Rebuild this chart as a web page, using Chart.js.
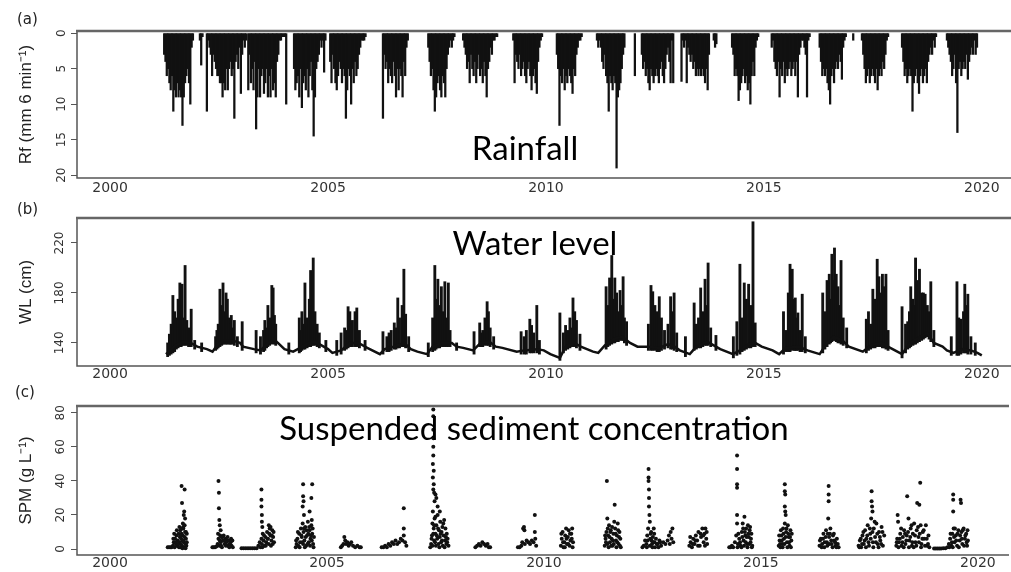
<!DOCTYPE html>
<html>
<head>
<meta charset="utf-8">
<title>Rainfall, water level and SPM</title>
<script src="https://cdn.jsdelivr.net/npm/chart.js@4.4.1/dist/chart.umd.min.js"></script>
<style>
    body { margin: 0; background: #fff; }
    #wrap { position: relative; width: 1011px; height: 572px; overflow: hidden; }
    canvas { position: absolute; left: 0; }
</style>
</head>
<body>
<div id="wrap">
    <canvas id="cRain" width="1011" height="200" style="top:0"></canvas>
    <canvas id="cLevel" width="1011" height="185" style="top:200px"></canvas>
    <canvas id="cSpm" width="1011" height="187" style="top:385px"></canvas>
</div>
<script>
// Shared time axis (decimal years)
const yearTicks = [2000, 2005, 2010, 2015, 2020];
const yearMin = 1999.24;
const yearMax = 2020.67;

// (a) Rainfall, mm per 6 min - one bar every rainStep years inside each wet season
const rainTicks = [0, 5, 10, 15, 20];
const rainStep = 0.03;
const rainSeasonStart = [2001.24, 2002.06, 2002.22, 2003.17, 2004.22, 2005.05, 2006.26, 2007.3, 2008.1,
    2009.25, 2010.25, 2011.17, 2012.04, 2012.2, 2013.11, 2013.26, 2013.85, 2014.27, 2015.18, 2016.28,
    2017.05, 2017.25, 2018.17, 2019.2];
const rainSeasonMm = [
    [3, 4, 6, 5, 7, 8, 6, 11, 8, 9, 7, 9, 8, 9, 13, 9, 7, 6, 5, 7, 10, 2, 1],
    [1, 4.5, 0.5],
    [11, 1, 2, 3, 6, 3, 4, 5, 6, 6, 7, 7, 9, 7, 8, 5, 8, 5, 4, 6, 5, 12, 4, 3, 5, 2, 8.5, 3, 1, 2, 1],
    [8, 3, 7, 5, 8, 4, 13.5, 9, 5, 9, 6, 5, 8.5, 7, 5, 9, 6, 9, 5, 8, 7, 9, 4, 3, 1, 1, 0.5, 0.5, 0.5, 10],
    [5, 8, 7, 6, 9, 5, 10.5, 7, 6, 8, 5, 9, 6, 4, 8, 14.5, 9, 5, 4, 3, 1, 2, 1, 5.5, 1],
    [4, 7, 3, 5, 7, 8, 6, 4, 5, 7, 5, 6, 12, 8, 5, 6, 10, 5, 7, 4, 6, 5, 3, 2, 1, 1, 1, 0.5],
    [12, 3, 5, 4, 7, 5, 6, 7, 4, 6, 9, 5, 8, 5, 6, 9, 4, 6, 2, 1],
    [2, 4, 6, 5, 8, 11, 9, 7, 6, 8, 9, 6, 7, 9, 5, 3, 2, 1, 2, 1, 0.5],
    [1, 2, 3, 5, 4, 7, 3, 5, 6, 4, 7, 5, 3, 6, 5, 7, 4, 6, 9, 5, 4, 2, 3, 1, 1, 0.5, 0.5],
    [1, 7, 3, 4, 5, 3, 6, 5, 4, 6, 7, 5, 4, 6, 8, 6, 5, 7, 8.5, 4, 2, 1, 0.5],
    [3, 5, 13, 6, 7, 5, 8, 6, 7, 5, 6, 7, 8.5, 5, 6, 3, 2, 1, 1, 0.5],
    [1, 2, 1, 2, 4, 5, 3, 6, 7, 11, 6, 7, 8, 6, 7, 19, 9, 8, 7, 5, 3, 2],
    [6],
    [3, 5, 4, 6, 5, 7, 8, 5, 6, 7, 6, 5, 6, 7, 5, 4, 6, 7, 5, 3, 2, 4, 7, 1, 7],
    [6.8, 1, 2, 1, 7],
    [2, 3, 4, 3, 5, 4, 6, 5, 6, 5, 6, 5, 6, 7, 5, 8, 3],
    [1, 2, 1.5],
    [2, 3, 6, 5, 6, 9.5, 8, 7, 6, 5, 7, 6, 8, 7, 10, 6, 4, 6, 2, 1, 0.5],
    [2, 1, 4, 5, 6, 4, 9, 5, 6, 4, 7, 5, 6, 5, 4, 6, 5, 4, 6, 4, 9, 3, 2, 1, 1, 2, 3, 9, 1, 0.5],
    [2, 4, 6, 5, 6, 5, 7, 8, 10, 6, 5, 7, 5, 4, 5, 3, 4, 6.5, 2, 1, 0.5],
    [1],
    [1, 3, 5, 7, 6, 5, 7, 6, 5, 6, 7, 5, 8, 6, 5, 6, 4, 5, 3, 1, 0.5],
    [2, 4, 6, 5, 7, 6, 5, 6, 11, 7, 6, 5, 7, 8.5, 6, 5, 7, 6, 5, 7, 4, 3, 2, 3, 1, 2, 0.5],
    [1, 2, 3, 4, 6, 5, 3, 7, 14, 5, 4, 6, 5, 4, 5, 3, 6.5, 4, 3, 2, 3, 1, 3, 2]
];

// (b) Water level, cm - slow baseline [year, cm]
const levelTicks = [140, 180, 220];
const levelBase = [
    [2001.28, 131], [2001.35, 133], [2001.5, 138], [2001.68, 141], [2001.85, 140], [2002.0, 137],
    [2002.22, 135], [2002.35, 133], [2002.45, 138], [2002.6, 142], [2002.8, 142], [2002.98, 140],
    [2003.05, 137], [2003.3, 135], [2003.45, 134], [2003.6, 139], [2003.75, 143], [2003.85, 140],
    [2004.0, 135], [2004.2, 133], [2004.36, 136], [2004.55, 140], [2004.7, 141], [2004.85, 138],
    [2005.0, 135], [2005.1, 132], [2005.3, 134], [2005.5, 140], [2005.7, 140], [2005.9, 136],
    [2006.19, 131], [2006.3, 135], [2006.5, 137], [2006.75, 140], [2006.9, 135], [2007.05, 133],
    [2007.27, 131], [2007.4, 137], [2007.6, 140], [2007.84, 140], [2007.95, 137], [2008.1, 136],
    [2008.33, 134], [2008.5, 140], [2008.7, 141], [2008.85, 137], [2009.0, 136], [2009.33, 133],
    [2009.5, 134], [2009.8, 135], [2009.95, 134], [2010.1, 131], [2010.32, 128], [2010.45, 137],
    [2010.65, 140], [2010.8, 137], [2011.08, 133], [2011.2, 132], [2011.35, 138], [2011.55, 143],
    [2011.75, 145], [2011.93, 140], [2012.1, 137], [2012.34, 137], [2012.6, 136], [2012.8, 139],
    [2012.95, 137], [2013.07, 134], [2013.3, 131], [2013.45, 137], [2013.7, 141], [2013.85, 138],
    [2014.0, 135], [2014.29, 131], [2014.45, 134], [2014.65, 139], [2014.8, 140], [2014.95, 137],
    [2015.2, 134], [2015.35, 131], [2015.5, 136], [2015.8, 137], [2016.0, 134], [2016.28, 131],
    [2016.45, 140], [2016.6, 145], [2016.8, 142], [2016.95, 137], [2017.27, 133], [2017.45, 138],
    [2017.7, 140], [2017.9, 136], [2018.17, 131], [2018.35, 140], [2018.6, 145], [2018.75, 148],
    [2018.9, 140], [2019.1, 137], [2019.2, 134], [2019.35, 132], [2019.55, 135], [2019.75, 134],
    [2019.9, 132], [2020.0, 130]
];

// (b) Water level flood spikes [year, foot cm, peak cm]
const levelSpikes = [
    [2001.32, 129, 140], [2001.36, 130, 147], [2001.4, 131, 155], [2001.44, 132, 178], [2001.48, 133, 165],
    [2001.52, 135, 160], [2001.56, 136, 175], [2001.6, 137, 188], [2001.63, 137, 170], [2001.65, 138, 187],
    [2001.68, 138, 160], [2001.72, 138, 202], [2001.76, 138, 158], [2001.8, 137, 152], [2001.83, 137, 150],
    [2001.86, 137, 167], [2001.94, 135, 142], [2002.1, 133, 140],
    [2002.42, 134, 145], [2002.45, 135, 150], [2002.48, 136, 155], [2002.52, 137, 183], [2002.56, 138, 170],
    [2002.59, 139, 188], [2002.62, 139, 165], [2002.66, 139, 180], [2002.69, 139, 175], [2002.73, 139, 160],
    [2002.76, 139, 155], [2002.78, 139, 162], [2002.82, 139, 152], [2002.85, 138, 158], [2002.92, 137, 145],
    [2003.03, 134, 157],
    [2003.35, 132, 150], [2003.45, 131, 145], [2003.52, 133, 150], [2003.55, 134, 158], [2003.59, 136, 152],
    [2003.62, 137, 170], [2003.66, 138, 160], [2003.71, 139, 186], [2003.74, 140, 184], [2003.77, 139, 162],
    [2003.8, 138, 155], [2004.1, 131, 140],
    [2004.34, 132, 160], [2004.37, 133, 150], [2004.4, 134, 165], [2004.44, 135, 155], [2004.47, 135, 188],
    [2004.52, 136, 160], [2004.55, 137, 152], [2004.57, 137, 175], [2004.6, 137, 198], [2004.63, 138, 170],
    [2004.66, 138, 208], [2004.7, 138, 165], [2004.75, 137, 155], [2004.8, 136, 148], [2004.95, 133, 142],
    [2005.2, 130, 142], [2005.3, 131, 148], [2005.38, 134, 152], [2005.42, 135, 150], [2005.46, 136, 169],
    [2005.5, 137, 165], [2005.53, 137, 155], [2005.56, 137, 158], [2005.62, 137, 165], [2005.66, 137, 168],
    [2005.72, 136, 150], [2005.85, 134, 142],
    [2006.26, 131, 149], [2006.35, 133, 145], [2006.4, 133, 148], [2006.45, 134, 150], [2006.52, 135, 156],
    [2006.56, 135, 152], [2006.6, 136, 176], [2006.64, 136, 160], [2006.7, 137, 170], [2006.74, 137, 199],
    [2006.78, 136, 163], [2006.85, 133, 145],
    [2007.3, 129, 140], [2007.4, 133, 160], [2007.45, 134, 202], [2007.48, 135, 175], [2007.52, 136, 191],
    [2007.56, 136, 170], [2007.6, 137, 185], [2007.64, 137, 165], [2007.68, 137, 189], [2007.72, 137, 160],
    [2007.76, 137, 188], [2007.8, 137, 150], [2007.95, 134, 140],
    [2008.35, 131, 149], [2008.48, 137, 156], [2008.52, 137, 148], [2008.55, 137, 150], [2008.6, 138, 160],
    [2008.65, 138, 173], [2008.68, 138, 165], [2008.72, 137, 152], [2008.8, 135, 145],
    [2009.43, 131, 149], [2009.5, 131, 145], [2009.55, 131, 150], [2009.63, 132, 159], [2009.67, 132, 154],
    [2009.72, 132, 148], [2009.79, 132, 170], [2009.85, 131, 142],
    [2010.32, 126, 164], [2010.4, 132, 148], [2010.45, 134, 154], [2010.5, 135, 150], [2010.55, 136, 160],
    [2010.58, 137, 152], [2010.62, 137, 176], [2010.66, 137, 165], [2010.7, 136, 158], [2010.78, 134, 147],
    [2011.38, 135, 185], [2011.42, 137, 170], [2011.46, 138, 192], [2011.51, 139, 210], [2011.55, 140, 175],
    [2011.58, 140, 192], [2011.62, 141, 180], [2011.66, 141, 165], [2011.7, 142, 182], [2011.74, 142, 170],
    [2011.77, 142, 193], [2011.8, 140, 160], [2011.85, 138, 157],
    [2012.35, 134, 155], [2012.41, 134, 186], [2012.45, 134, 181], [2012.5, 134, 170], [2012.55, 133, 165],
    [2012.6, 133, 177], [2012.65, 134, 160], [2012.72, 135, 150], [2012.8, 136, 155], [2012.86, 135, 177],
    [2012.9, 135, 165], [2012.94, 134, 180], [2013.0, 133, 148],
    [2013.2, 129, 145], [2013.4, 134, 172], [2013.45, 135, 155], [2013.5, 136, 160], [2013.55, 136, 184],
    [2013.6, 137, 165], [2013.65, 138, 191], [2013.68, 138, 170], [2013.72, 138, 204], [2013.78, 137, 152],
    [2013.9, 134, 146],
    [2014.3, 128, 145], [2014.38, 130, 157], [2014.45, 131, 203], [2014.5, 133, 160], [2014.55, 134, 188],
    [2014.6, 135, 175], [2014.65, 136, 187], [2014.7, 136, 170], [2014.75, 137, 237], [2014.8, 137, 156],
    [2015.45, 131, 165], [2015.5, 133, 150], [2015.56, 133, 180], [2015.6, 133, 203], [2015.65, 134, 199],
    [2015.7, 134, 175], [2015.72, 134, 176], [2015.75, 134, 160], [2015.78, 134, 164], [2015.83, 133, 150],
    [2015.88, 133, 179], [2015.95, 132, 145],
    [2016.35, 132, 180], [2016.4, 135, 165], [2016.45, 137, 190], [2016.5, 139, 195], [2016.53, 140, 175],
    [2016.56, 141, 211], [2016.6, 142, 190], [2016.62, 142, 216], [2016.66, 141, 195], [2016.7, 140, 185],
    [2016.74, 140, 170], [2016.77, 139, 206], [2016.82, 138, 160], [2016.9, 136, 152],
    [2017.35, 132, 159], [2017.4, 134, 165], [2017.45, 135, 155], [2017.5, 136, 183], [2017.55, 136, 175],
    [2017.6, 137, 207], [2017.64, 137, 193], [2017.68, 137, 180], [2017.72, 136, 195], [2017.76, 136, 185],
    [2017.8, 135, 195], [2017.85, 134, 150],
    [2018.17, 128, 169], [2018.25, 132, 155], [2018.3, 135, 157], [2018.34, 136, 165], [2018.37, 137, 185],
    [2018.42, 138, 175], [2018.45, 139, 170], [2018.48, 139, 208], [2018.52, 140, 190], [2018.57, 141, 199],
    [2018.62, 142, 180], [2018.66, 143, 180], [2018.7, 144, 179], [2018.75, 145, 170], [2018.79, 143, 165],
    [2018.83, 141, 189], [2018.9, 137, 150],
    [2019.3, 130, 145], [2019.43, 130, 189], [2019.47, 130, 160], [2019.52, 131, 159], [2019.58, 132, 165],
    [2019.61, 132, 187], [2019.65, 132, 170], [2019.68, 131, 179], [2019.75, 131, 145], [2019.85, 130, 140]
];

// (c) Suspended sediment concentration, g/L [year, value]
const spmTicks = [0, 20, 40, 60, 80];
const spmSamples = [
    [2001.33, 1], [2001.36, 1], [2001.39, 1], [2001.42, 1], [2001.45, 2], [2001.47, 4], [2001.49, 1], [2001.5, 6],
    [2001.52, 3], [2001.53, 8], [2001.55, 2], [2001.56, 5], [2001.58, 9], [2001.59, 1], [2001.6, 4], [2001.61, 7],
    [2001.62, 11], [2001.63, 3], [2001.64, 6], [2001.65, 9], [2001.66, 2], [2001.67, 5], [2001.68, 8], [2001.69, 12],
    [2001.7, 4], [2001.71, 1], [2001.72, 7], [2001.73, 10], [2001.74, 3], [2001.75, 6], [2001.76, 2], [2001.77, 9],
    [2001.46, 6], [2001.48, 9], [2001.51, 4], [2001.54, 11], [2001.57, 3], [2001.6, 13], [2001.63, 8], [2001.66, 12],
    [2001.69, 5], [2001.72, 14], [2001.75, 10], [2001.77, 4], [2001.62, 1], [2001.67, 0.5], [2001.74, 0.5],
    [2001.65, 37], [2001.72, 35], [2001.66, 27], [2001.71, 22], [2001.7, 20], [2001.68, 15], [2001.73, 18], [2001.69, 13],
    [2002.36, 1], [2002.39, 1], [2002.42, 1], [2002.45, 1.5], [2002.48, 3], [2002.5, 6], [2002.52, 2], [2002.54, 8],
    [2002.55, 4], [2002.57, 7], [2002.58, 1], [2002.6, 5], [2002.62, 8], [2002.64, 3], [2002.66, 6], [2002.68, 4],
    [2002.7, 5], [2002.72, 2], [2002.74, 5], [2002.76, 3], [2002.78, 4], [2002.8, 2], [2002.82, 5], [2002.83, 1],
    [2002.49, 9], [2002.53, 5], [2002.56, 2], [2002.59, 7], [2002.63, 5], [2002.67, 2], [2002.71, 7], [2002.75, 1],
    [2002.79, 6],
    [2002.5, 40], [2002.51, 33], [2002.51, 24], [2002.52, 17], [2002.53, 14], [2002.55, 11],
    [2003.03, 0.5], [2003.08, 0.5], [2003.13, 0.5], [2003.18, 0.5], [2003.23, 0.5], [2003.28, 0.5], [2003.33, 0.5],
    [2003.38, 0.5], [2003.42, 2], [2003.45, 4], [2003.47, 1], [2003.49, 6], [2003.5, 3], [2003.52, 9], [2003.54, 5],
    [2003.56, 2], [2003.58, 7], [2003.6, 4], [2003.62, 10], [2003.64, 6], [2003.66, 3], [2003.68, 12], [2003.7, 8],
    [2003.72, 5], [2003.74, 11], [2003.76, 7], [2003.78, 4],
    [2003.51, 1], [2003.55, 8], [2003.59, 2], [2003.63, 6], [2003.67, 9], [2003.71, 2], [2003.73, 8], [2003.75, 3],
    [2003.77, 10],
    [2003.49, 35], [2003.49, 29], [2003.49, 25], [2003.5, 20], [2003.5, 16], [2003.51, 13], [2003.66, 14], [2003.7, 13],
    [2004.28, 1], [2004.3, 3], [2004.32, 6], [2004.34, 2], [2004.36, 9], [2004.38, 4], [2004.4, 12], [2004.42, 7],
    [2004.44, 15], [2004.45, 3], [2004.46, 10], [2004.48, 5], [2004.5, 13], [2004.52, 2], [2004.54, 8], [2004.56, 16],
    [2004.58, 4], [2004.6, 11], [2004.62, 6], [2004.64, 14], [2004.66, 9], [2004.68, 3], [2004.7, 7],
    [2004.29, 5], [2004.33, 10], [2004.37, 1], [2004.41, 8], [2004.43, 4], [2004.47, 12], [2004.49, 1], [2004.51, 7],
    [2004.53, 11], [2004.55, 3], [2004.57, 9], [2004.59, 13], [2004.61, 2], [2004.63, 8], [2004.65, 5], [2004.67, 12],
    [2004.69, 1],
    [2004.45, 38], [2004.66, 38], [2004.45, 31], [2004.46, 28], [2004.64, 30], [2004.6, 22], [2004.47, 20],
    [2004.44, 25], [2004.65, 17],
    [2005.32, 1], [2005.35, 2], [2005.38, 3], [2005.4, 7], [2005.42, 5], [2005.44, 3], [2005.47, 4], [2005.5, 2],
    [2005.53, 3], [2005.56, 4], [2005.6, 2], [2005.65, 1], [2005.7, 2], [2005.75, 1], [2005.78, 1],
    [2006.26, 1], [2006.3, 1], [2006.34, 2], [2006.38, 1], [2006.42, 3], [2006.46, 2], [2006.5, 4], [2006.54, 3],
    [2006.58, 5], [2006.62, 3], [2006.66, 4], [2006.7, 6], [2006.74, 5], [2006.77, 8], [2006.77, 12], [2006.77, 24],
    [2006.8, 4], [2006.83, 2],
    [2007.45, 82], [2007.45, 78], [2007.45, 70], [2007.45, 65], [2007.45, 60], [2007.45, 55], [2007.44, 50],
    [2007.46, 46], [2007.44, 42], [2007.46, 38], [2007.45, 35], [2007.47, 33], [2007.5, 32], [2007.52, 30],
    [2007.48, 28], [2007.55, 25], [2007.6, 22],
    [2007.38, 1], [2007.4, 3], [2007.42, 8], [2007.43, 15], [2007.44, 22], [2007.46, 12], [2007.47, 5], [2007.48, 18],
    [2007.5, 9], [2007.51, 2], [2007.52, 14], [2007.54, 6], [2007.55, 20], [2007.57, 3], [2007.58, 11], [2007.6, 7],
    [2007.61, 16], [2007.63, 4], [2007.64, 10], [2007.66, 13], [2007.67, 2], [2007.69, 8], [2007.7, 17], [2007.72, 5],
    [2007.73, 12], [2007.75, 3], [2007.76, 9], [2007.78, 6], [2007.8, 2],
    [2007.41, 6], [2007.43, 2], [2007.45, 9], [2007.47, 14], [2007.49, 4], [2007.5, 19], [2007.53, 8], [2007.56, 12],
    [2007.59, 1], [2007.62, 9], [2007.65, 5], [2007.68, 15], [2007.71, 1], [2007.74, 7], [2007.77, 4],
    [2008.42, 1], [2008.46, 2], [2008.5, 3], [2008.54, 2], [2008.58, 4], [2008.62, 3], [2008.66, 2], [2008.7, 3],
    [2008.73, 1], [2008.76, 1],
    [2009.4, 1], [2009.44, 1], [2009.48, 2], [2009.5, 4], [2009.52, 12], [2009.54, 13], [2009.55, 11], [2009.56, 3],
    [2009.6, 5], [2009.64, 4], [2009.68, 3], [2009.72, 5], [2009.76, 4], [2009.79, 20], [2009.79, 10], [2009.8, 6],
    [2009.82, 2],
    [2010.39, 2], [2010.41, 6], [2010.43, 10], [2010.45, 1], [2010.47, 4], [2010.49, 8], [2010.51, 12], [2010.53, 3],
    [2010.55, 7], [2010.57, 11], [2010.59, 2], [2010.61, 5], [2010.63, 9], [2010.65, 12], [2010.67, 4],
    [2010.4, 9], [2010.44, 4], [2010.48, 1], [2010.52, 6], [2010.56, 3], [2010.6, 9], [2010.64, 6], [2010.66, 1],
    [2011.4, 2], [2011.42, 6], [2011.44, 10], [2011.45, 40], [2011.46, 18], [2011.46, 3], [2011.48, 8], [2011.5, 14],
    [2011.52, 4], [2011.54, 11], [2011.56, 6], [2011.58, 2], [2011.6, 9], [2011.62, 16], [2011.63, 26], [2011.64, 12],
    [2011.66, 5], [2011.68, 8], [2011.7, 15], [2011.72, 3], [2011.74, 10], [2011.76, 6], [2011.77, 1],
    [2011.41, 8], [2011.43, 4], [2011.47, 12], [2011.49, 1], [2011.51, 7], [2011.53, 10], [2011.55, 2], [2011.57, 13],
    [2011.59, 5], [2011.61, 3], [2011.65, 9], [2011.67, 1], [2011.69, 4], [2011.71, 11], [2011.73, 7], [2011.75, 2],
    [2012.27, 1], [2012.3, 2], [2012.33, 5], [2012.36, 3], [2012.38, 8], [2012.4, 12], [2012.41, 47], [2012.41, 42],
    [2012.41, 40], [2012.42, 35], [2012.42, 30], [2012.42, 25], [2012.43, 20], [2012.44, 16], [2012.45, 6],
    [2012.47, 10], [2012.49, 3], [2012.51, 7], [2012.53, 12], [2012.55, 4], [2012.58, 6], [2012.62, 3], [2012.66, 5],
    [2012.7, 2], [2012.75, 4], [2012.8, 3], [2012.85, 5], [2012.88, 8], [2012.9, 3], [2012.92, 10], [2012.94, 6],
    [2012.96, 12], [2012.98, 4],
    [2012.37, 1], [2012.39, 5], [2012.44, 2], [2012.46, 9], [2012.48, 5], [2012.5, 1], [2012.52, 4], [2012.54, 9],
    [2012.56, 1], [2012.6, 3], [2012.64, 1], [2012.68, 4],
    [2013.35, 2], [2013.38, 4], [2013.41, 1], [2013.44, 6], [2013.47, 3], [2013.5, 8], [2013.53, 5], [2013.56, 10],
    [2013.59, 2], [2013.62, 7], [2013.65, 12], [2013.68, 4], [2013.7, 9], [2013.72, 12], [2013.74, 6], [2013.76, 3],
    [2013.37, 7], [2013.43, 3], [2013.49, 5], [2013.55, 2], [2013.61, 9], [2013.67, 8], [2013.71, 2], [2013.75, 10],
    [2014.27, 1], [2014.3, 1], [2014.33, 2], [2014.36, 1], [2014.4, 4], [2014.43, 8], [2014.45, 55], [2014.45, 47],
    [2014.45, 38], [2014.45, 36], [2014.45, 20], [2014.45, 15], [2014.47, 3], [2014.5, 6], [2014.53, 2], [2014.56, 10],
    [2014.58, 15], [2014.6, 5], [2014.62, 19], [2014.64, 8], [2014.66, 12], [2014.68, 3], [2014.7, 14], [2014.72, 7],
    [2014.74, 11], [2014.76, 4], [2014.78, 9], [2014.8, 2],
    [2014.46, 1], [2014.48, 9], [2014.52, 4], [2014.55, 1], [2014.57, 7], [2014.59, 12], [2014.61, 2], [2014.63, 10],
    [2014.65, 4], [2014.67, 7], [2014.69, 1], [2014.71, 9], [2014.73, 3], [2014.75, 13], [2014.77, 6], [2014.79, 1],
    [2015.41, 2], [2015.43, 5], [2015.45, 1], [2015.47, 8], [2015.49, 3], [2015.51, 12], [2015.53, 6], [2015.55, 38],
    [2015.55, 34], [2015.56, 32], [2015.55, 25], [2015.56, 22], [2015.57, 20], [2015.55, 15], [2015.58, 10],
    [2015.6, 4], [2015.62, 14], [2015.64, 7], [2015.66, 2], [2015.68, 11], [2015.7, 5], [2015.71, 9],
    [2015.42, 8], [2015.44, 3], [2015.46, 11], [2015.48, 5], [2015.5, 1], [2015.52, 9], [2015.54, 3], [2015.57, 7],
    [2015.59, 12], [2015.61, 1], [2015.63, 9], [2015.65, 4], [2015.67, 7], [2015.69, 1],
    [2016.35, 2], [2016.38, 6], [2016.41, 3], [2016.44, 9], [2016.47, 4], [2016.5, 11], [2016.53, 2], [2016.55, 18],
    [2016.56, 37], [2016.56, 32], [2016.56, 28], [2016.57, 7], [2016.6, 12], [2016.63, 3], [2016.66, 8], [2016.69, 5],
    [2016.72, 2], [2016.75, 6], [2016.77, 3], [2016.79, 1],
    [2016.36, 5], [2016.4, 1], [2016.43, 6], [2016.46, 1], [2016.49, 7], [2016.52, 4], [2016.54, 9], [2016.58, 3],
    [2016.59, 9], [2016.62, 5], [2016.65, 1], [2016.68, 9], [2016.71, 4], [2016.74, 1],
    [2017.25, 2], [2017.28, 5], [2017.31, 1], [2017.34, 8], [2017.37, 3], [2017.4, 11], [2017.43, 6], [2017.46, 14],
    [2017.49, 2], [2017.52, 9], [2017.54, 18], [2017.55, 34], [2017.55, 28], [2017.56, 25], [2017.57, 22],
    [2017.58, 4], [2017.6, 12], [2017.63, 7], [2017.66, 15], [2017.69, 3], [2017.72, 10], [2017.75, 5],
    [2017.78, 13], [2017.81, 2], [2017.84, 8],
    [2017.27, 1], [2017.3, 6], [2017.33, 3], [2017.36, 10], [2017.39, 5], [2017.42, 1], [2017.45, 8], [2017.48, 4],
    [2017.51, 12], [2017.53, 6], [2017.57, 10], [2017.59, 1], [2017.62, 16], [2017.65, 4], [2017.68, 9], [2017.71, 1],
    [2017.74, 7], [2017.77, 3], [2017.8, 10],
    [2018.12, 2], [2018.14, 6], [2018.15, 20], [2018.16, 16], [2018.18, 4], [2018.21, 9], [2018.24, 2], [2018.27, 7],
    [2018.3, 11], [2018.33, 3], [2018.36, 8], [2018.37, 31], [2018.4, 18], [2018.42, 5], [2018.45, 12], [2018.48, 2],
    [2018.5, 9], [2018.53, 15], [2018.56, 4], [2018.59, 11], [2018.6, 27], [2018.63, 7], [2018.65, 26], [2018.67, 39],
    [2018.68, 14], [2018.7, 3], [2018.73, 10], [2018.76, 6], [2018.8, 14], [2018.83, 2], [2018.86, 8], [2018.88, 1],
    [2018.13, 4], [2018.17, 1], [2018.2, 6], [2018.23, 12], [2018.26, 4], [2018.29, 1], [2018.32, 9], [2018.35, 5],
    [2018.39, 10], [2018.41, 1], [2018.44, 7], [2018.47, 14], [2018.49, 4], [2018.52, 1], [2018.55, 8], [2018.58, 2],
    [2018.62, 13], [2018.64, 4], [2018.66, 9], [2018.69, 1], [2018.72, 6], [2018.75, 11], [2018.78, 2], [2018.82, 6],
    [2018.85, 3],
    [2018.99, 0.3], [2019.03, 0.3], [2019.07, 0.3], [2019.11, 0.3], [2019.15, 0.3], [2019.2, 0.5], [2019.25, 0.5],
    [2019.3, 1], [2019.33, 3], [2019.36, 6], [2019.39, 2], [2019.41, 9], [2019.43, 32], [2019.43, 29], [2019.43, 22],
    [2019.44, 12], [2019.46, 4], [2019.49, 8], [2019.52, 2], [2019.55, 11], [2019.58, 5], [2019.6, 29], [2019.61, 27],
    [2019.62, 10], [2019.64, 3], [2019.67, 12], [2019.7, 6], [2019.73, 9], [2019.75, 2], [2019.77, 5],
    [2019.34, 1], [2019.37, 9], [2019.4, 4], [2019.42, 1], [2019.45, 7], [2019.47, 12], [2019.5, 5], [2019.53, 9],
    [2019.56, 1], [2019.59, 8], [2019.63, 6], [2019.65, 11], [2019.68, 2], [2019.71, 8], [2019.74, 4], [2019.76, 11]
];

const INK = '#111';
const AXIS = '#555';

// Frame (R style: left, top, bottom lines) + panel tag + big caption
const framePlugin = {
    id: 'frame',
    afterDraw(chart) {
        const { ctx, chartArea: a } = chart;
        const opts = chart.options.plugins.frame;
        ctx.save();
        ctx.strokeStyle = AXIS;
        ctx.lineWidth = 1.5;
        ctx.beginPath();
        ctx.moveTo(a.right + 2, a.bottom);
        ctx.lineTo(a.left, a.bottom);
        ctx.lineTo(a.left, a.top);
        ctx.stroke();
        ctx.strokeStyle = '#666';
        ctx.lineWidth = 2.5;
        ctx.beginPath();
        ctx.moveTo(a.left - 1, a.top);
        ctx.lineTo(a.right + 2, a.top);
        ctx.stroke();

        ctx.fillStyle = '#222';
        ctx.textBaseline = 'alphabetic';
        ctx.textAlign = 'left';
        ctx.font = '15px "DejaVu Sans"';
        ctx.fillText(opts.tag, opts.tagX, opts.tagY);

        ctx.fillStyle = '#000';
        ctx.textAlign = 'center';
        ctx.font = '33px Lato';
        ctx.fillText(opts.caption, opts.capX, opts.capY);
        ctx.restore();
    }
};

function yearAxis(xHeight, pad) {
    return {
        type: 'linear',
        min: yearMin,
        max: yearMax,
        offset: false,
        afterBuildTicks: s => { s.ticks = yearTicks.map(v => ({ value: v })); },
        afterFit: s => { s.height = xHeight; },
        grid: { display: false, drawTicks: false },
        border: { display: false },
        ticks: {
            autoSkip: false, maxRotation: 0, padding: pad, color: '#333',
            font: { family: 'DejaVu Sans', size: 14 },
            callback: v => String(v)
        }
    };
}

function valueAxis(min, max, ticks, reverse, title, pad) {
    return {
        type: 'linear',
        min: min,
        max: max,
        reverse: reverse,
        afterBuildTicks: s => { s.ticks = ticks.map(v => ({ value: v })); },
        afterFit: s => { s.width = 77; },
        grid: { drawOnChartArea: false, drawTicks: true, tickLength: 6, color: AXIS },
        border: { display: false },
        ticks: {
            minRotation: 90, maxRotation: 90, crossAlign: 'center', padding: pad, color: '#333',
            font: { family: 'DejaVu Sans', size: 12 }
        },
        title: {
            display: true, text: title, color: '#222',
            font: { family: 'Liberation Sans', size: 17 },
            padding: { top: 16, bottom: 0 }
        }
    };
}

function baseOptions(top, frame) {
    return {
        responsive: false,
        animation: false,
        events: [],
        layout: { padding: { left: 0, right: 0, top: top, bottom: 0 } },
        plugins: { legend: { display: false }, tooltip: { enabled: false }, frame: frame }
    };
}

// (a) Rainfall bars hanging from the top
function drawRain() {
    const rainPoints = [];
    rainSeasonStart.forEach((t0, s) => {
        rainSeasonMm[s].forEach((mm, i) => rainPoints.push({ x: t0 + i * rainStep, y: mm }));
    });
    const opts = baseOptions(31, { tag: '(a)', tagX: 17, tagY: 24, caption: 'Rainfall', capX: 525, capY: 160 });
    opts.scales = {
        x: yearAxis(22, 2),
        y: valueAxis(-0.3, 20.4, rainTicks, true, 'Rf (mm 6 min\u207B\u00B9)', 1)
    };
    new Chart(document.getElementById('cRain'), {
        type: 'bar',
        data: {
            datasets: [{
                data: rainPoints,
                backgroundColor: INK,
                barThickness: 1.6,
                borderWidth: 0
            }]
        },
        options: opts,
        plugins: [framePlugin]
    });
}

// (b) Water level: baseline line + spikes
function drawLevel() {
    const opts = baseOptions(18, { tag: '(b)', tagX: 17, tagY: 14, caption: 'Water level', capX: 535, capY: 55 });
    opts.scales = {
        x: yearAxis(19, 0),
        y: valueAxis(121.5, 240, levelTicks, false, 'WL (cm)', 0)
    };
    new Chart(document.getElementById('cLevel'), {
        type: 'bar',
        data: {
            datasets: [{
                type: 'line',
                data: levelBase.map(p => ({ x: p[0], y: p[1] })),
                borderColor: INK,
                borderWidth: 2.5,
                pointRadius: 0,
                tension: 0,
                order: 0
            }, {
                type: 'bar',
                data: levelSpikes.map(p => ({ x: p[0], y: [p[1], p[2]] })),
                backgroundColor: INK,
                barThickness: 2.2,
                borderWidth: 0,
                order: 1
            }]
        },
        options: opts,
        plugins: [framePlugin]
    });
}

// (c) SPM scatter
function drawSpm() {
    const opts = baseOptions(21, { tag: '(c)', tagX: 15, tagY: 12, caption: 'Suspended sediment concentration', capX: 534, capY: 55 });
    opts.scales = {
        x: yearAxis(17, 0),
        y: valueAxis(-3.5, 84, spmTicks, false, 'SPM (g L\u207B\u00B9)', 2)
    };
    new Chart(document.getElementById('cSpm'), {
        type: 'scatter',
        data: {
            datasets: [{
                data: spmSamples.map(p => ({ x: p[0], y: p[1] })),
                backgroundColor: INK,
                borderWidth: 0,
                pointRadius: 2
            }]
        },
        options: opts,
        plugins: [framePlugin]
    });
}

drawRain();
drawLevel();
drawSpm();
</script>
</body>
</html>
